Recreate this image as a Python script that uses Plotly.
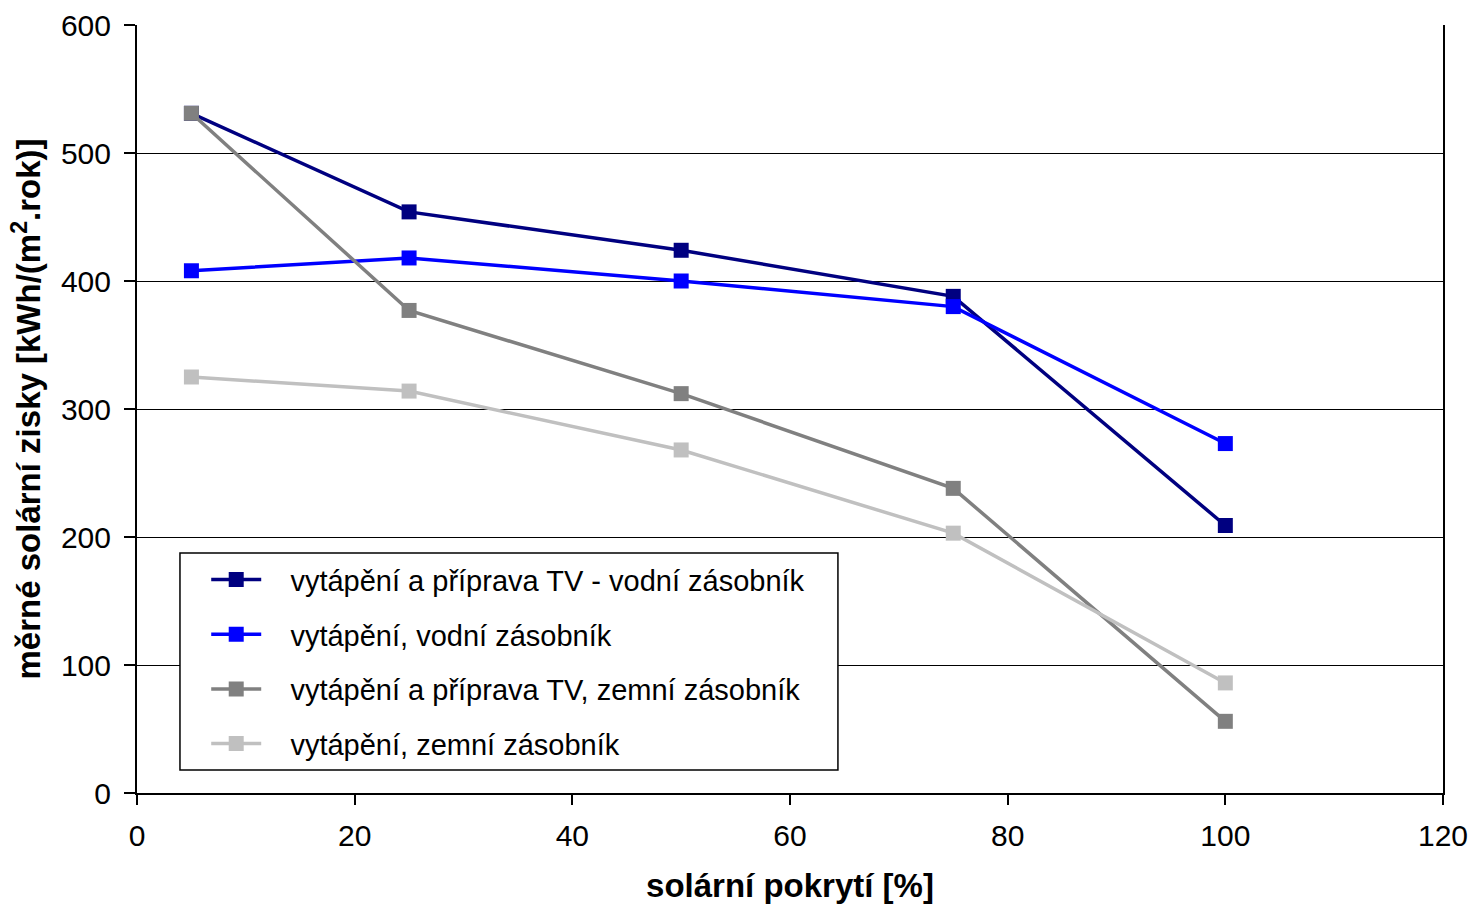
import plotly.graph_objects as go

x_vals = [5, 25, 50, 75, 100]

s1_name = "vytápění a příprava TV - vodní zásobník"
s1_vals = [531, 454, 424, 388, 209]

s2_name = "vytápění, vodní zásobník"
s2_vals = [408, 418, 400, 380, 273]

s3_name = "vytápění a příprava TV, zemní zásobník"
s3_vals = [531, 377, 312, 238, 56]

s4_name = "vytápění, zemní zásobník"
s4_vals = [325, 314, 268, 203, 86]

colors = ["#000080", "#0000FF", "#808080", "#C0C0C0"]
names = [s1_name, s2_name, s3_name, s4_name]
series = [s1_vals, s2_vals, s3_vals, s4_vals]

FONT = "Liberation Sans, Arial, sans-serif"
PAD = "\u00a0\u00a0\u00a0"

fig = go.Figure()
for i, (n, v, c) in enumerate(zip(names, series, colors)):
    fig.add_trace(go.Scatter(
        x=x_vals, y=v, name=PAD + n, mode="lines+markers",
        line=dict(color=c, width=3.5),
        marker=dict(symbol="square", size=15, color=c),
        legendgroup=f"g{i}",
    ))

# legend frame (white box with black border)
fig.add_shape(
    type="rect", xref="paper", yref="paper",
    x0=0.0329, x1=0.5367, y0=0.0299, y1=0.3125,
    line=dict(color="black", width=1.5), fillcolor="white", layer="above",
)

fig.update_layout(
    width=1470, height=905,
    margin=dict(l=137, r=27, t=25, b=112),
    paper_bgcolor="white", plot_bgcolor="white",
    font=dict(family=FONT, size=30, color="black"),
    showlegend=True,
    legend=dict(
        x=0.053, y=0.311, xanchor="left", yanchor="top",
        bgcolor="rgba(0,0,0,0)", borderwidth=0,
        font=dict(family=FONT, size=29, color="black"),
        tracegroupgap=14, itemwidth=50,
    ),
    xaxis=dict(
        range=[0, 120], dtick=20, tick0=0, automargin=False,
        showline=True, linecolor="black", linewidth=2,
        ticks="outside", ticklen=10, tickwidth=2, tickcolor="black",
        showgrid=False, zeroline=False,
        ticklabelstandoff=5,
        title=dict(text="<b>solární pokrytí [%]</b>", font=dict(family=FONT, size=33), standoff=23),
    ),
    yaxis=dict(
        range=[0, 600], dtick=100, tick0=0, automargin=False,
        showline=True, linecolor="black", linewidth=2, mirror=True,
        ticks="outside", ticklen=11, tickwidth=2, tickcolor="black",
        showgrid=True, gridcolor="black", gridwidth=1,
        zeroline=False,
        ticklabelstandoff=7,
        title=dict(text="<b>měrné solární zisky [kWh/(m<sup>2</sup>.rok)]</b>", font=dict(family=FONT, size=33), standoff=10),
    ),
)

fig.write_html("out.html")
